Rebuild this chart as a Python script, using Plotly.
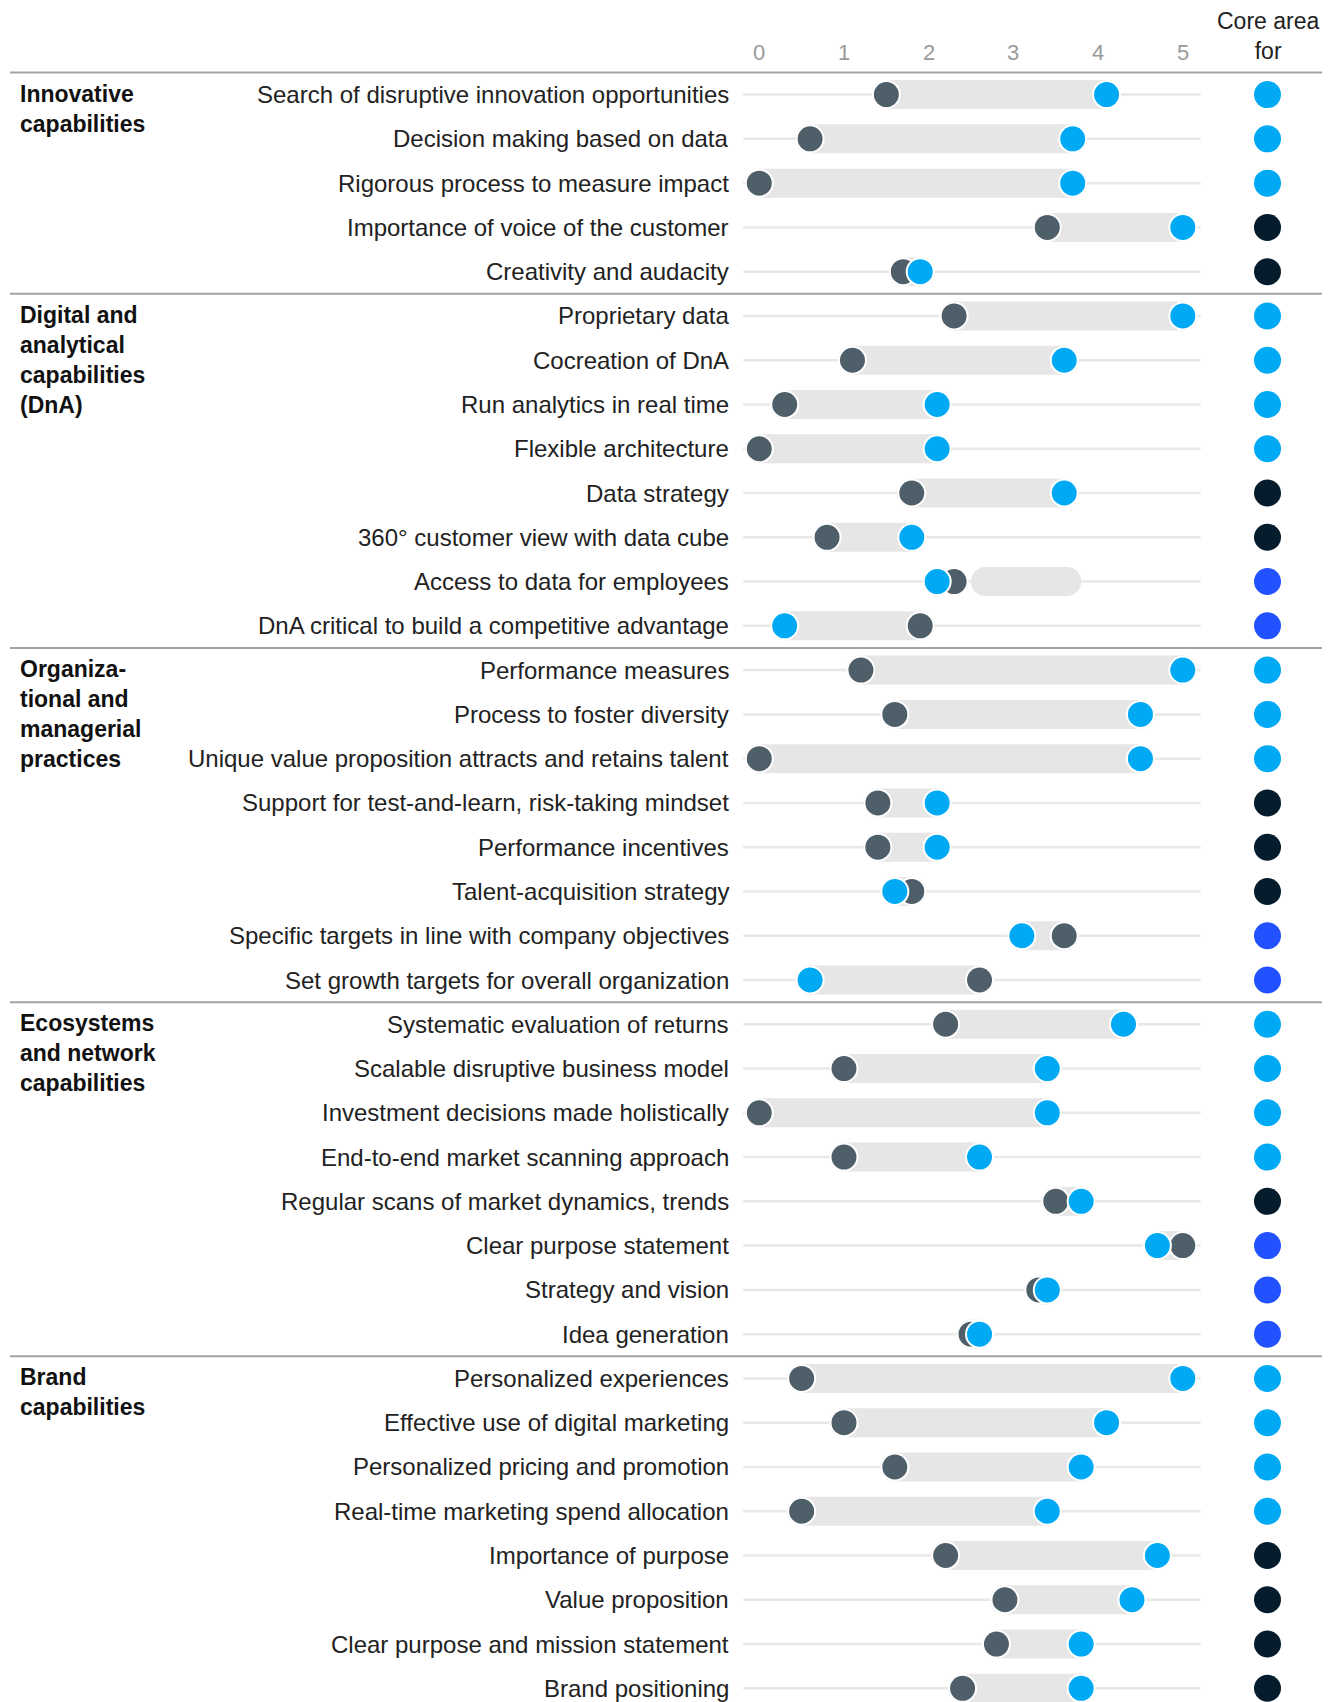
import plotly.graph_objects as go

# ---------------- data ----------------
section_names = [
    "Innovative<br>capabilities",
    "Digital and<br>analytical<br>capabilities<br>(DnA)",
    "Organiza-<br>tional and<br>managerial<br>practices",
    "Ecosystems<br>and network<br>capabilities",
    "Brand<br>capabilities",
]
section_sizes = [5, 8, 8, 8, 8]

row_labels = [
    "Search of disruptive innovation opportunities",
    "Decision making based on data",
    "Rigorous process to measure impact",
    "Importance of voice of the customer",
    "Creativity and audacity",
    "Proprietary data",
    "Cocreation of DnA",
    "Run analytics in real time",
    "Flexible architecture",
    "Data strategy",
    "360° customer view with data cube",
    "Access to data for employees",
    "DnA critical to build a competitive advantage",
    "Performance measures",
    "Process to foster diversity",
    "Unique value proposition attracts and retains talent",
    "Support for test-and-learn, risk-taking mindset",
    "Performance incentives",
    "Talent-acquisition strategy",
    "Specific targets in line with company objectives",
    "Set growth targets for overall organization",
    "Systematic evaluation of returns",
    "Scalable disruptive business model",
    "Investment decisions made holistically",
    "End-to-end market scanning approach",
    "Regular scans of market dynamics, trends",
    "Clear purpose statement",
    "Strategy and vision",
    "Idea generation",
    "Personalized experiences",
    "Effective use of digital marketing",
    "Personalized pricing and promotion",
    "Real-time marketing spend allocation",
    "Importance of purpose",
    "Value proposition",
    "Clear purpose and mission statement",
    "Brand positioning",
]

# gray dots
others_scores = [
    1.5, 0.6, 0.0, 3.4, 1.7,
    2.3, 1.1, 0.3, 0.0, 1.8, 0.8, 2.3, 1.9,
    1.2, 1.6, 0.0, 1.4, 1.4, 1.8, 3.6, 2.6,
    2.2, 1.0, 0.0, 1.0, 3.5, 5.0, 3.3, 2.5,
    0.5, 1.0, 1.6, 0.5, 2.2, 2.9, 2.8, 2.4,
]
# blue dots
leader_scores = [
    4.1, 3.7, 3.7, 5.0, 1.9,
    5.0, 3.6, 2.1, 2.1, 3.6, 1.8, 2.1, 0.3,
    5.0, 4.5, 4.5, 2.1, 2.1, 1.6, 3.1, 0.6,
    4.3, 3.4, 3.4, 2.6, 3.8, 4.7, 3.4, 2.6,
    5.0, 4.1, 3.8, 3.4, 4.7, 4.4, 3.8, 3.8,
]
# gray range bars
range_low = [
    1.5, 0.6, 0.0, 3.4, 1.7,
    2.3, 1.1, 0.3, 0.0, 1.8, 0.8, 2.67, 0.3,
    1.2, 1.6, 0.0, 1.4, 1.4, 1.6, 3.1, 0.6,
    2.2, 1.0, 0.0, 1.0, 3.5, 4.7, 3.3, 2.5,
    0.5, 1.0, 1.6, 0.5, 2.2, 2.9, 2.8, 2.4,
]
range_high = [
    4.1, 3.7, 3.7, 5.0, 1.9,
    5.0, 3.6, 2.1, 2.1, 3.6, 1.8, 3.63, 1.9,
    5.0, 4.5, 4.5, 2.1, 2.1, 1.8, 3.6, 2.6,
    4.3, 3.4, 3.4, 2.6, 3.8, 5.0, 3.4, 2.6,
    5.0, 4.1, 3.8, 3.4, 4.7, 4.4, 3.8, 3.8,
]
# core area category
core_area = [
    "A", "A", "A", "B", "B",
    "A", "A", "A", "A", "B", "B", "C", "C",
    "A", "A", "A", "B", "B", "B", "C", "C",
    "A", "A", "A", "A", "B", "C", "C", "C",
    "A", "A", "A", "A", "B", "B", "B", "B",
]
tick_values = [0, 1, 2, 3, 4, 5]
tick_labels = ["0", "1", "2", "3", "4", "5"]
core_header = "Core area<br>for"

# ---------------- styling ----------------
GRAY_DOT = "#4f5f6a"
CYAN = "#00a9f4"
NAVY = "#051c2c"
BLUE = "#2251ff"
BAR = "#e6e6e6"
core_colors = {"A": CYAN, "B": NAVY, "C": BLUE}
FONT = "Liberation Sans, Arial, sans-serif"

# page is offset by the default body margin
PAGE_OFF = 8
W, H = 1330 - PAGE_OFF, 1702 - PAGE_OFF
X0_PX, UNIT_PX = 759.3, 84.7      # page px of value 0, px per unit
Y0_PX, ROW_PX = 94.6, 44.27       # page px of first row, px per row


def px_x(p):
    return (p - X0_PX) / UNIT_PX


def px_y(p):
    return (p - Y0_PX) / ROW_PX


x_range = [px_x(PAGE_OFF), px_x(PAGE_OFF + W)]
y_range = [px_y(PAGE_OFF + H), px_y(PAGE_OFF)]

n = len(row_labels)
rows = list(range(n))
CORE_X = 6.0
TRACK = (-0.19, 5.21)

fig = go.Figure()

# thin background tracks
tx, ty = [], []
for i in rows:
    tx += [TRACK[0], TRACK[1], None]
    ty += [i, i, None]
fig.add_trace(go.Scatter(x=tx, y=ty, mode="lines",
                         line=dict(color="#e8e8e8", width=2.5),
                         hoverinfo="skip"))

# range bars (round-capped)
bx, by = [], []
for i in rows:
    bx += [range_low[i], range_high[i], None]
    by += [i, i, None]
fig.add_trace(go.Scatter(x=bx, y=by, mode="lines+markers",
                         line=dict(color=BAR, width=29),
                         marker=dict(color=BAR, size=29, line=dict(width=0)),
                         hoverinfo="skip"))

# gray dots
fig.add_trace(go.Scatter(x=others_scores, y=rows, mode="markers",
                         marker=dict(color=GRAY_DOT, size=27,
                                     line=dict(color="white", width=2)),
                         hoverinfo="skip"))
# blue dots
fig.add_trace(go.Scatter(x=leader_scores, y=rows, mode="markers",
                         marker=dict(color=CYAN, size=27,
                                     line=dict(color="white", width=2)),
                         hoverinfo="skip"))
# core area dots
fig.add_trace(go.Scatter(x=[CORE_X] * n, y=rows, mode="markers",
                         marker=dict(color=[core_colors[c] for c in core_area],
                                     size=27, line=dict(width=0)),
                         hoverinfo="skip"))

annotations = []
# row labels
for i, lab in enumerate(row_labels):
    annotations.append(dict(x=px_x(730.5), y=i, xref="x", yref="y",
                            text=lab, showarrow=False, xanchor="right",
                            yanchor="middle",
                            font=dict(family=FONT, size=24, color="#222222")))
# section labels and separators
shapes = []
start = 0
for name, size in zip(section_names, section_sizes):
    annotations.append(dict(x=px_x(18), y=start, xref="x", yref="y",
                            text="<b>" + name.replace("<br>", "</b><br><b>") + "</b>",
                            showarrow=False, xanchor="left", yanchor="top",
                            yshift=16, align="left",
                            font=dict(family=FONT, size=23, color="#111111")))
    shapes.append(dict(type="line", xref="x", yref="y",
                       x0=px_x(10), x1=px_x(1325), y0=start - 0.5, y1=start - 0.5,
                       line=dict(color="#a3a3a3", width=2)))
    start += size

# tick labels
for v, t in zip(tick_values, tick_labels):
    annotations.append(dict(x=v, y=px_y(52.5), xref="x", yref="y",
                            text=t, showarrow=False, xanchor="center",
                            yanchor="middle",
                            font=dict(family=FONT, size=22, color="#9a9a9a")))
# core area header
annotations.append(dict(x=CORE_X, y=px_y(36), xref="x", yref="y",
                        text=core_header, showarrow=False, xanchor="center",
                        yanchor="middle", align="center",
                        font=dict(family=FONT, size=23, color="#222222")))

fig.update_layout(
    width=W, height=H,
    margin=dict(l=0, r=0, t=0, b=0),
    paper_bgcolor="white", plot_bgcolor="white",
    showlegend=False,
    xaxis=dict(range=x_range, visible=False, fixedrange=True),
    yaxis=dict(range=y_range, visible=False, fixedrange=True),
    annotations=annotations,
    shapes=shapes,
)

fig.write_html("out.html")
